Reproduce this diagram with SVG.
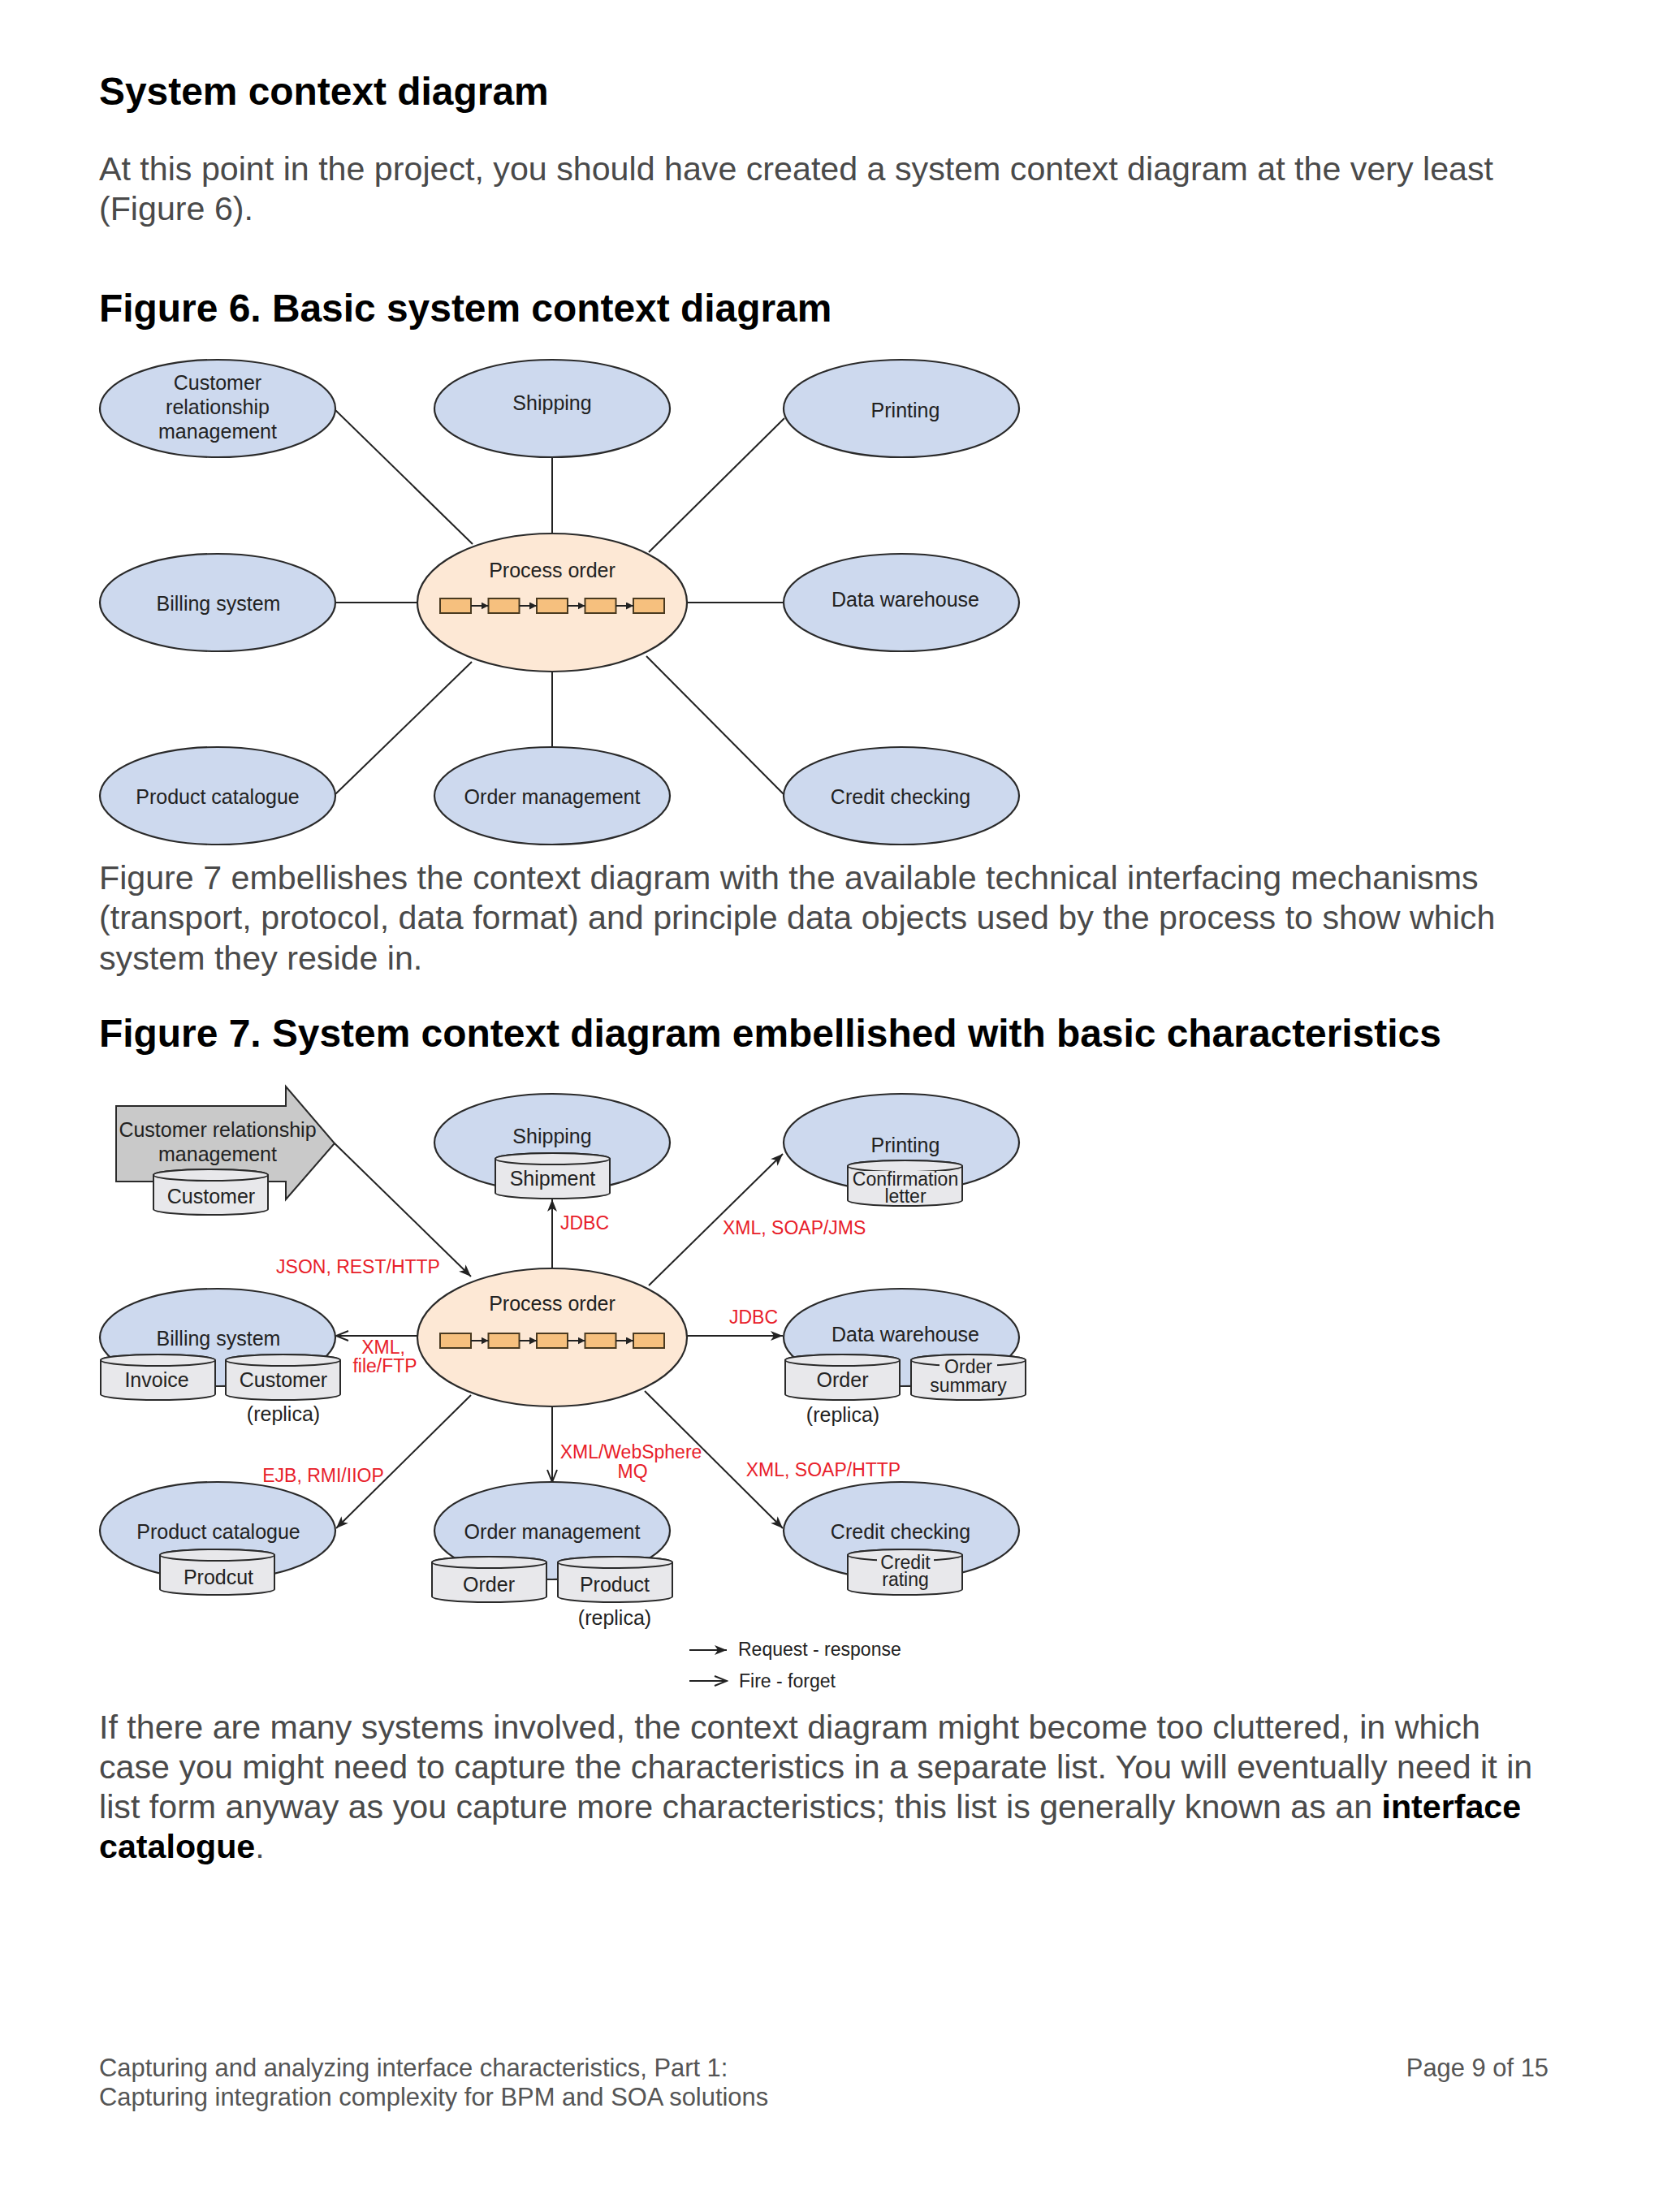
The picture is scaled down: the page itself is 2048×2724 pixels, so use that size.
<svg xmlns="http://www.w3.org/2000/svg" xmlns:xlink="http://www.w3.org/1999/xlink" width="2048" height="2724" viewBox="0 0 2048 2724">
<style>
text{font-family:"Liberation Sans",Arial,Helvetica,sans-serif}
.body{font-size:41.2px;fill:#4a4a4a}
.h{font-size:47.9px;font-weight:bold;fill:#000}
.b{font-weight:bold;fill:#000}
.foot{font-size:30.9px;fill:#555}
.sys{fill:#cdd9ee;stroke:#2a2a2a;stroke-width:2.2}
.proc{fill:#fde8d5;stroke:#2a2a2a;stroke-width:2.2}
.box{fill:#f6c07e;stroke:#4a3a20;stroke-width:2}
.lbl{font-size:25px;fill:#222;text-anchor:middle}
.sm{font-size:23px;fill:#222;text-anchor:middle}
.red{font-size:23px;fill:#e8202a}
.leg{font-size:23px;fill:#222}
.ln{stroke:#222;stroke-width:2;fill:none}
.cylb{fill:#e8e8eb;stroke:#2a2a2a;stroke-width:2}
.bg{fill:#e8e8eb;stroke:none}
.crm{fill:#c9c9c9;stroke:#2a2a2a;stroke-width:2}
</style>
<defs>
<marker id="fill" markerUnits="userSpaceOnUse" markerWidth="16" markerHeight="12" refX="15" refY="6" orient="auto">
<path d="M0,0 L15,6 L0,12 L4,6 Z" fill="#222"/>
</marker>
<marker id="open" markerUnits="userSpaceOnUse" markerWidth="18" markerHeight="14" refX="16" refY="7" orient="auto">
<path d="M1,1 L16,7 L1,13" fill="none" stroke="#222" stroke-width="2"/>
</marker>
<marker id="small" markerUnits="userSpaceOnUse" markerWidth="10" markerHeight="9" refX="9" refY="4.5" orient="auto">
<path d="M0,0 L9,4.5 L0,9 Z" fill="#222"/>
</marker>
<g id="cyl">
<path class="cylb" d="M0,7 V49 A70.5,7 0 0 0 141,49 V7 A70.5,7 0 0 0 0,7 Z"/>
<ellipse class="cylb" cx="70.5" cy="7" rx="70.5" ry="7"/>
</g>
<g id="steps">
<rect class="box" x="542" y="0" width="38" height="18"/>
<rect class="box" x="601.5" y="0" width="38" height="18"/>
<rect class="box" x="661" y="0" width="38" height="18"/>
<rect class="box" x="720.5" y="0" width="38" height="18"/>
<rect class="box" x="780" y="0" width="38" height="18"/>
<line class="ln" x1="580" y1="9" x2="601.5" y2="9" marker-end="url(#small)"/>
<line class="ln" x1="639.5" y1="9" x2="661" y2="9" marker-end="url(#small)"/>
<line class="ln" x1="699" y1="9" x2="720.5" y2="9" marker-end="url(#small)"/>
<line class="ln" x1="758.5" y1="9" x2="780" y2="9" marker-end="url(#small)"/>
</g>
</defs>
<rect width="2048" height="2724" fill="#fff"/>

<g id="page-text">
<text class="h" x="122" y="129">System context diagram</text>
<text class="body" x="122" y="222">At this point in the project, you should have created a system context diagram at the very least</text>
<text class="body" x="122" y="271">(Figure 6).</text>
<text class="h" x="122" y="396">Figure 6. Basic system context diagram</text>
<text class="body" x="122" y="1095">Figure 7 embellishes the context diagram with the available technical interfacing mechanisms</text>
<text class="body" x="122" y="1144">(transport, protocol, data format) and principle data objects used by the process to show which</text>
<text class="body" x="122" y="1194">system they reside in.</text>
<text class="h" x="122" y="1289">Figure 7. System context diagram embellished with basic characteristics</text>
<text class="body" x="122" y="2141">If there are many systems involved, the context diagram might become too cluttered, in which</text>
<text class="body" x="122" y="2190">case you might need to capture the characteristics in a separate list. You will eventually need it in</text>
<text class="body" x="122" y="2239">list form anyway as you capture more characteristics; this list is generally known as an <tspan class="b">interface</tspan></text>
<text class="body" x="122" y="2288"><tspan class="b">catalogue</tspan>.</text>
<text class="foot" x="122" y="2557">Capturing and analyzing interface characteristics, Part 1:</text>
<text class="foot" x="122" y="2593">Capturing integration complexity for BPM and SOA solutions</text>
<text class="foot" x="1907" y="2557" text-anchor="end">Page 9 of 15</text>
</g>

<!-- Figure 6 -->
<g id="fig6-connectors">
<line class="ln" x1="413" y1="505" x2="582" y2="670"/>
<line class="ln" x1="680" y1="563" x2="680" y2="657"/>
<line class="ln" x1="966" y1="515" x2="799" y2="680"/>
<line class="ln" x1="413" y1="742" x2="514" y2="742"/>
<line class="ln" x1="846" y1="742" x2="965" y2="742"/>
<line class="ln" x1="413" y1="978" x2="581" y2="815"/>
<line class="ln" x1="680" y1="827" x2="680" y2="920"/>
<line class="ln" x1="796" y1="808" x2="965" y2="978"/>
</g>
<g id="fig6-crm">
<ellipse class="sys" cx="268" cy="503" rx="145" ry="60"/>
<text class="lbl" x="268" y="480">Customer</text>
<text class="lbl" x="268" y="510">relationship</text>
<text class="lbl" x="268" y="540">management</text>
</g>
<g id="fig6-shipping">
<ellipse class="sys" cx="680" cy="503" rx="145" ry="60"/>
<text class="lbl" x="680" y="505">Shipping</text>
</g>
<g id="fig6-printing">
<ellipse class="sys" cx="1110" cy="503" rx="145" ry="60"/>
<text class="lbl" x="1115" y="514">Printing</text>
</g>
<g id="fig6-billing">
<ellipse class="sys" cx="268" cy="742" rx="145" ry="60"/>
<text class="lbl" x="269" y="752">Billing system</text>
</g>
<g id="fig6-process">
<ellipse class="proc" cx="680" cy="742" rx="166" ry="85"/>
<text class="lbl" x="680" y="711">Process order</text>
<use xlink:href="#steps" y="737"/>
</g>
<g id="fig6-warehouse">
<ellipse class="sys" cx="1110" cy="742" rx="145" ry="60"/>
<text class="lbl" x="1115" y="747">Data warehouse</text>
</g>
<g id="fig6-product">
<ellipse class="sys" cx="268" cy="980" rx="145" ry="60"/>
<text class="lbl" x="268" y="990">Product catalogue</text>
</g>
<g id="fig6-order">
<ellipse class="sys" cx="680" cy="980" rx="145" ry="60"/>
<text class="lbl" x="680" y="990">Order management</text>
</g>
<g id="fig6-credit">
<ellipse class="sys" cx="1110" cy="980" rx="145" ry="60"/>
<text class="lbl" x="1109" y="990">Credit checking</text>
</g>

<!-- Figure 7 -->
<g id="fig7-connectors">
<line class="ln" x1="412" y1="1408" x2="580" y2="1572" marker-end="url(#fill)"/>
<line class="ln" x1="680" y1="1562" x2="680" y2="1477" marker-end="url(#fill)"/>
<line class="ln" x1="799" y1="1583" x2="964" y2="1421" marker-end="url(#fill)"/>
<line class="ln" x1="514" y1="1645" x2="414" y2="1645" marker-end="url(#open)"/>
<line class="ln" x1="846" y1="1645" x2="964" y2="1645" marker-end="url(#fill)"/>
<line class="ln" x1="580" y1="1718" x2="414" y2="1882" marker-end="url(#fill)"/>
<line class="ln" x1="680" y1="1732" x2="680" y2="1825" marker-end="url(#open)"/>
<line class="ln" x1="794" y1="1713" x2="964" y2="1882" marker-end="url(#fill)"/>
<text class="red" x="441" y="1568" text-anchor="middle">JSON, REST/HTTP</text>
<text class="red" x="690" y="1514">JDBC</text>
<text class="red" x="890" y="1520">XML, SOAP/JMS</text>
<text class="red" x="472" y="1667" text-anchor="middle">XML,</text>
<text class="red" x="474" y="1690" text-anchor="middle">file/FTP</text>
<text class="red" x="928" y="1630" text-anchor="middle">JDBC</text>
<text class="red" x="777" y="1796" text-anchor="middle">XML/WebSphere</text>
<text class="red" x="779" y="1820" text-anchor="middle">MQ</text>
<text class="red" x="398" y="1825" text-anchor="middle">EJB, RMI/IIOP</text>
<text class="red" x="1014" y="1818" text-anchor="middle">XML, SOAP/HTTP</text>
</g>
<g id="fig7-crm">
<path class="crm" d="M143,1362 H352 V1338 L412,1408 L352,1477 V1455 H143 Z"/>
<text class="lbl" x="268" y="1400">Customer relationship</text>
<text class="lbl" x="268" y="1430">management</text>
<use xlink:href="#cyl" x="189" y="1440"/>
<text class="lbl" x="260" y="1482">Customer</text>
</g>
<g id="fig7-shipping">
<ellipse class="sys" cx="680" cy="1407" rx="145" ry="60"/>
<text class="lbl" x="680" y="1408">Shipping</text>
<use xlink:href="#cyl" x="610" y="1420"/>
<text class="lbl" x="680.5" y="1460">Shipment</text>
</g>
<g id="fig7-printing">
<ellipse class="sys" cx="1110" cy="1407" rx="145" ry="60"/>
<text class="lbl" x="1115" y="1419">Printing</text>
<use xlink:href="#cyl" x="1044" y="1429"/>
<rect class="bg" x="1050" y="1442" width="130" height="21"/>
<text class="sm" x="1115" y="1460">Confirmation</text>
<text class="sm" x="1115" y="1481">letter</text>
</g>
<g id="fig7-billing">
<ellipse class="sys" cx="268" cy="1647" rx="145" ry="60"/>
<text class="lbl" x="269" y="1657">Billing system</text>
<use xlink:href="#cyl" x="124" y="1668"/>
<text class="lbl" x="193" y="1708">Invoice</text>
<use xlink:href="#cyl" x="278" y="1668"/>
<text class="lbl" x="349" y="1708">Customer</text>
<text class="lbl" x="349" y="1750">(replica)</text>
</g>
<g id="fig7-process">
<ellipse class="proc" cx="680" cy="1647" rx="166" ry="85"/>
<text class="lbl" x="680" y="1614">Process order</text>
<use xlink:href="#steps" y="1642"/>
</g>
<g id="fig7-warehouse">
<ellipse class="sys" cx="1110" cy="1647" rx="145" ry="60"/>
<text class="lbl" x="1115" y="1652">Data warehouse</text>
<use xlink:href="#cyl" x="967" y="1668"/>
<text class="lbl" x="1037.5" y="1708">Order</text>
<text class="lbl" x="1038" y="1751">(replica)</text>
<use xlink:href="#cyl" x="1122" y="1668"/>
<rect class="bg" x="1157" y="1674" width="71" height="20"/>
<text class="sm" x="1192.5" y="1691">Order</text>
<text class="sm" x="1192.5" y="1714">summary</text>
</g>
<g id="fig7-product">
<ellipse class="sys" cx="268" cy="1885" rx="145" ry="60"/>
<text class="lbl" x="269" y="1895">Product catalogue</text>
<use xlink:href="#cyl" x="197" y="1908"/>
<text class="lbl" x="269" y="1951">Prodcut</text>
</g>
<g id="fig7-order">
<ellipse class="sys" cx="680" cy="1885" rx="145" ry="60"/>
<text class="lbl" x="680" y="1895">Order management</text>
<use xlink:href="#cyl" x="532" y="1917"/>
<text class="lbl" x="602" y="1960">Order</text>
<use xlink:href="#cyl" x="687" y="1917"/>
<text class="lbl" x="757" y="1960">Product</text>
<text class="lbl" x="757" y="2001">(replica)</text>
</g>
<g id="fig7-credit">
<ellipse class="sys" cx="1110" cy="1885" rx="145" ry="60"/>
<text class="lbl" x="1109" y="1895">Credit checking</text>
<use xlink:href="#cyl" x="1044" y="1908"/>
<rect class="bg" x="1080" y="1913" width="70" height="22"/>
<text class="sm" x="1115" y="1932">Credit</text>
<text class="sm" x="1115" y="1953">rating</text>
</g>
<g id="legend">
<line class="ln" x1="849" y1="2032" x2="895" y2="2032" marker-end="url(#fill)"/>
<text class="leg" x="909" y="2039">Request - response</text>
<line class="ln" x1="849" y1="2070" x2="895" y2="2070" marker-end="url(#open)"/>
<text class="leg" x="910" y="2078">Fire - forget</text>
</g>
</svg>
